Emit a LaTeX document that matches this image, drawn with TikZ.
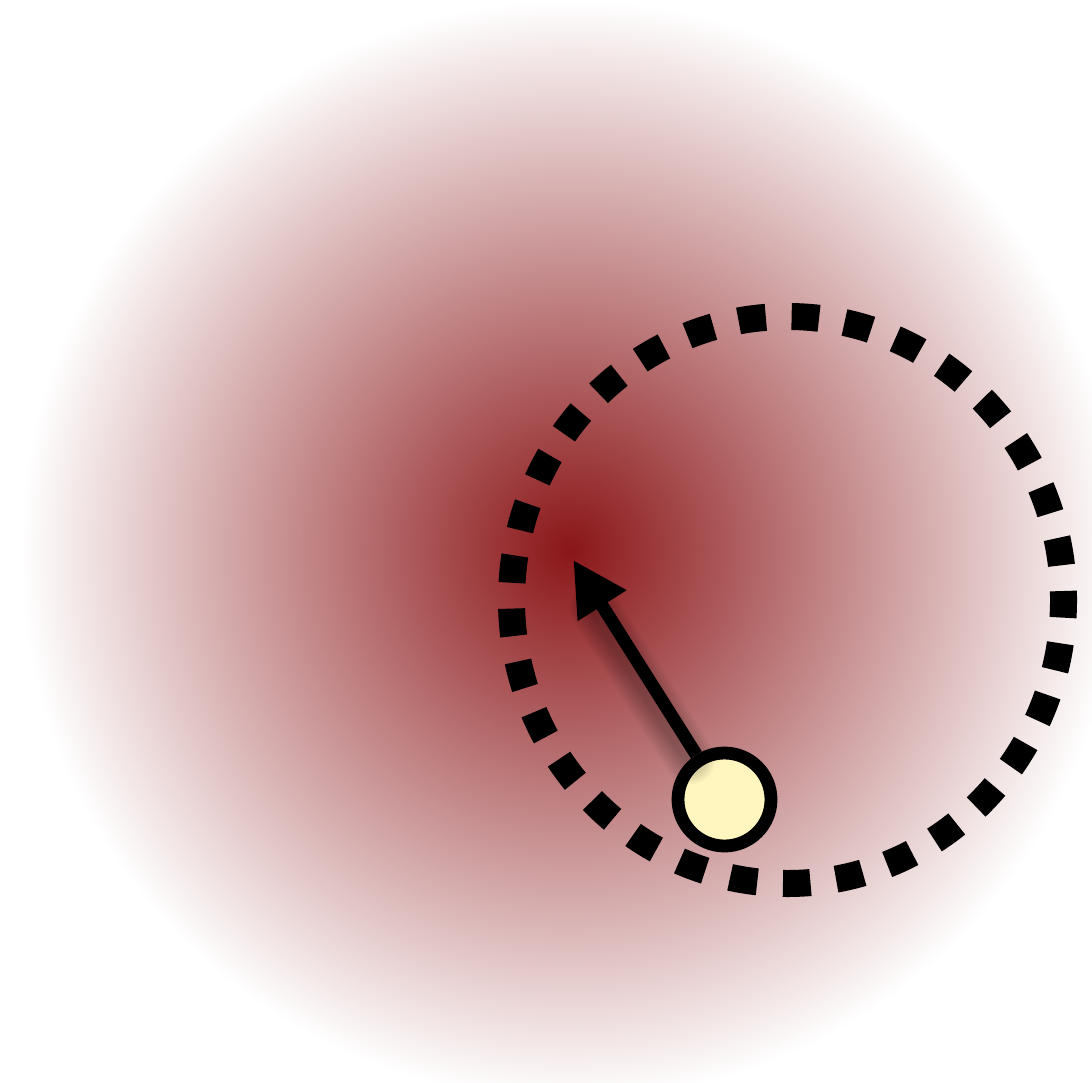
\documentclass[tikz,border=0pt]{standalone}
\usetikzlibrary{arrows.meta,calc}
\definecolor{glowred}{RGB}{138,22,24}
\definecolor{probefill}{RGB}{255,245,190}
\pgfdeclareradialshading{redglow}{\pgfpoint{0bp}{0bp}}{%
  color(0bp)=(glowred); color(12.5bp)=(glowred!50!white);
  color(25bp)=(white); color(50bp)=(white)}
\begin{document}
\begin{tikzpicture}
  \tikzset{ring/.style={draw=black, line width=2.7mm,
      dash pattern=on 2.75mm off 2.58mm, dash phase=1.85mm}}
  \tikzset{probe/.style={circle, draw=black, line width=1.28mm, fill=probefill,
      inner sep=0pt, minimum size=9.3mm}}
  \tikzset{pull/.style={line width=1.3mm, -{Triangle[length=5.4mm, width=5.4mm]}}}
  \tikzset{haze/.style={black, opacity=0.035, line cap=round}}
  \useasboundingbox (0,0) rectangle (10.92,10.82);
  \clip (0,0) rectangle (10.92,10.82);
  % glow
  \coordinate (core) at (5.70,5.32);
  \shade[shading=redglow] (core) circle (5.5);
  % orbit
  \coordinate (orbitc) at (7.875,4.82);
  \draw[ring] (orbitc) ellipse [x radius=2.76, y radius=2.835];
  % body and pull
  \node[probe] (body) at (7.245,2.825) {};
  \coordinate (tip) at (5.733,5.22);
  \coordinate (hazeend) at ($(tip)!0.22!(body.122)$);
  \foreach \w in {1.4,1.9,2.4,2.9,3.4,3.9,4.4,4.9}
    \draw[haze, line width=\w mm]
      ([shift={(-0.06,-0.05)}]body.122) -- ([shift={(-0.06,-0.05)}]hazeend);
  \draw[pull] (body) -- (tip);
\end{tikzpicture}
\end{document}
